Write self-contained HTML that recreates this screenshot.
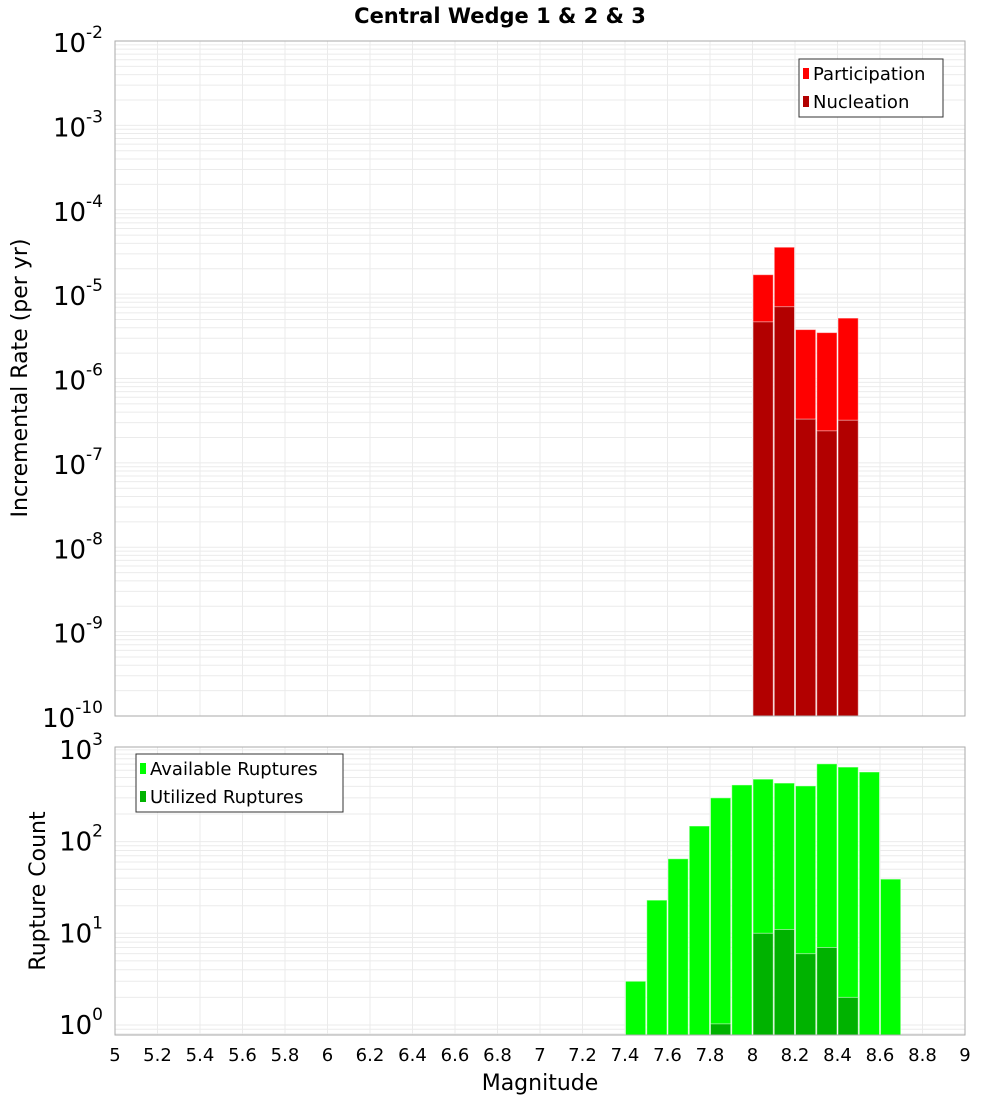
<!DOCTYPE html>
<html><head><meta charset="utf-8"><style>
body{margin:0;background:#fff;font-family:"DejaVu Sans","Liberation Sans",sans-serif}
svg text{font-family:"DejaVu Sans","Liberation Sans",sans-serif}
</style></head><body>
<svg id="chart" width="1000" height="1100" xmlns="http://www.w3.org/2000/svg">
<text x="500" y="23" text-anchor="middle" font-size="21" font-weight="bold">Central Wedge 1 &amp; 2 &amp; 3</text>
<g id="top"></g>
<g id="bot"></g>
<text x="540" y="1090" text-anchor="middle" font-size="22">Magnitude</text>
<text transform="translate(27,378) rotate(-90)" text-anchor="middle" font-size="22">Incremental Rate (per yr)</text>
<text transform="translate(45,891) rotate(-90)" text-anchor="middle" font-size="22">Rupture Count</text>
</svg>
<script>
const topBins=[8.05,8.15,8.25,8.35,8.45];
const participation=[1.7e-5,3.6e-5,3.8e-6,3.5e-6,5.2e-6];
const nucleation=[4.7e-6,7.1e-6,3.3e-7,2.4e-7,3.2e-7];
const botBins=[7.45,7.55,7.65,7.75,7.85,7.95,8.05,8.15,8.25,8.35,8.45,8.55,8.65];
const available=[3,23,65,148,300,415,480,435,405,705,650,575,39];
const utilized=[0,0,0,0,1.03,0,10,11,6,7,2,0,0];
const xTicks=[5,5.2,5.4,5.6,5.8,6,6.2,6.4,6.6,6.8,7,7.2,7.4,7.6,7.8,8,8.2,8.4,8.6,8.8,9];
const topExps=[-2,-3,-4,-5,-6,-7,-8,-9,-10];
const botExps=[3,2,1,0];

const NS='http://www.w3.org/2000/svg';
const L=115,R=965;
const X=v=>L+(v-5)/4*(R-L);
const T0=41,T1=716;
const YT=v=>T0+(-2-Math.log10(v))/8*(T1-T0);
const B0=747,B1=1035,BD=91.7,B10=1025;
const YB=v=>B10-Math.log10(v)*BD;
function el(p,tag,a){const e=document.createElementNS(NS,tag);for(const k in a)e.setAttribute(k,a[k]);p.appendChild(e);return e;}
const topG=document.getElementById('top'),botG=document.getElementById('bot');

function grid(g,y0,y1,yf,lo,hi){
  for(let d=lo;d<hi;d++)for(let m=1;m<10;m++){const y=yf(m*Math.pow(10,d));if(y<y0-0.5||y>y1+0.5)continue;
    const ln=el(g,'line',{x1:L,x2:R,y1:y,y2:y,stroke:'#ebebeb','stroke-width':1});
    
    }
  xTicks.forEach(t=>{const ln=el(g,'line',{x1:X(t),x2:X(t),y1:y0,y2:y1,stroke:'#ebebeb','stroke-width':1});
    
    });
}
grid(topG,T0,T1,YT,-10,-2);
grid(botG,B0,B1,YB,-1,4);

function bar(g,c,v,yf,ybot,fill,name){
  const y=yf(v);const r=el(g,'rect',{x:X(c-0.05)+0.5,y:y,width:X(c+0.05)-X(c-0.05)-1,height:Math.max(0,ybot-y),fill:fill,stroke:'#fff','stroke-opacity':0.5,'stroke-width':1});
  
  
}
topBins.forEach((c,i)=>bar(topG,c,participation[i],YT,T1,'#ff0000','participation-bar'));
topBins.forEach((c,i)=>bar(topG,c,nucleation[i],YT,T1,'#b20000','nucleation-bar'));
botBins.forEach((c,i)=>{if(available[i]>0)bar(botG,c,available[i],YB,B1,'#00ff00','available-bar');});
botBins.forEach((c,i)=>{if(utilized[i]>0)bar(botG,c,utilized[i],YB,B1,'#00b200','utilized-bar');});

[[topG,T0,T1],[botG,B0,B1]].forEach(([g,a,b])=>{const f=el(g,'rect',{x:L,y:a,width:R-L,height:b-a,fill:'none',stroke:'#aaa','stroke-width':1});
  
  });

function ylab(g,e,y){const t=el(g,'text',{x:103,y:y+9,'text-anchor':'end','font-size':26});
  
  
  t.textContent='10';const s=el(t,'tspan',{dy:-14,'font-size':17});s.textContent=String(e);}
topExps.forEach(e=>ylab(topG,e,YT(Math.pow(10,e))+2));
botExps.forEach(e=>ylab(botG,e,YB(Math.pow(10,e))));
xTicks.forEach(t=>{const tx=el(botG,'text',{x:X(t),y:1061,'text-anchor':'middle','font-size':18});
  
  
  tx.textContent=String(t);});

function legend(g,x,y,w,items){const b=el(g,'rect',{x:x,y:y,width:w,height:58,fill:'#fff',stroke:'#333','stroke-width':1});
  
  
  items.forEach((it,i)=>{const sw=el(g,'rect',{x:x+4,y:y+9+i*28,width:6,height:11,fill:it[1]});
    
    
    const t=el(g,'text',{x:x+14,y:y+21+i*28,'font-size':18});
    
    
    t.textContent=it[0];});}
legend(topG,799,59,144,[['Participation','#ff0000'],['Nucleation','#b20000']]);
legend(botG,136,754,207,[['Available Ruptures','#00ff00'],['Utilized Ruptures','#00b200']]);
</script>
</body></html>
